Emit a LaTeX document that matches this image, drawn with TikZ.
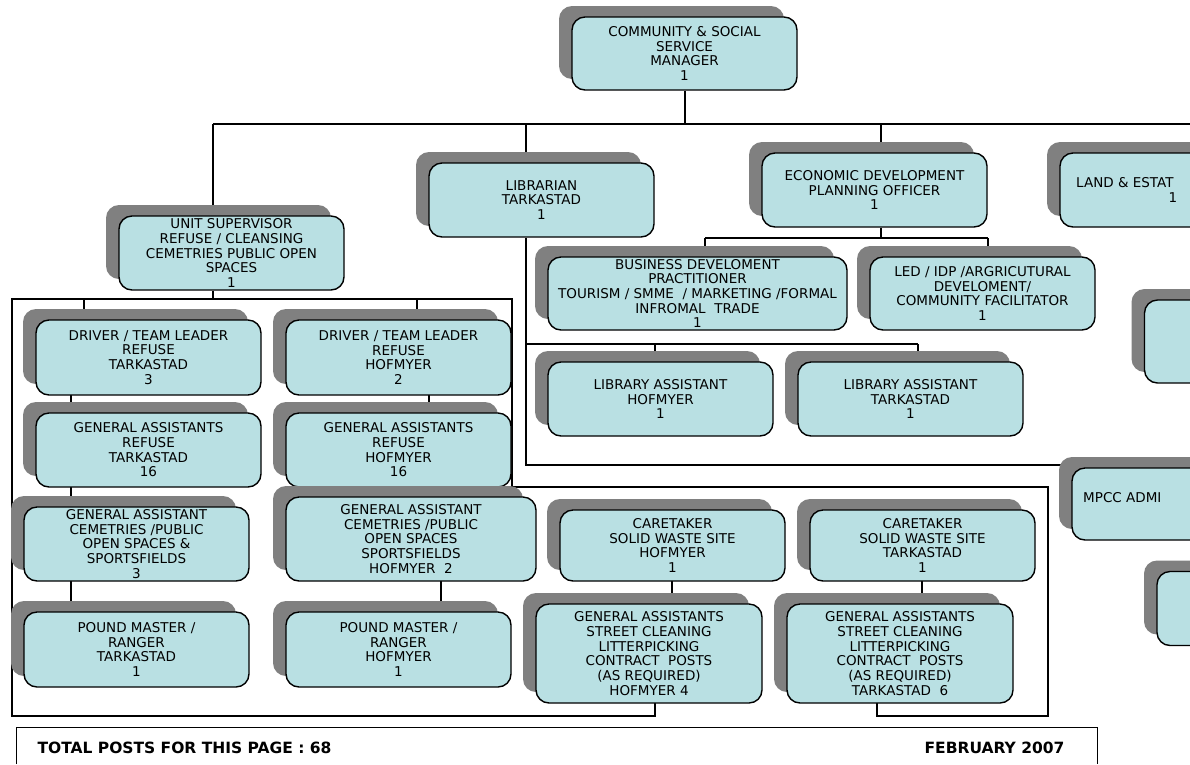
\documentclass[tikz,border=0pt]{standalone}
\usepackage{fontspec}
\setmainfont{DejaVu Sans}
\usetikzlibrary{shadows, backgrounds, positioning}

\definecolor{boxcyan}{RGB}{185,224,227}
\definecolor{shadowgray}{RGB}{128,128,128}

\begin{document}
\begin{tikzpicture}[x=1pt, y=-1pt,
  post/.style={draw, line width=1.4pt, rounded corners=13pt, fill=boxcyan,
    minimum width=225pt, minimum height=74pt, align=center, inner sep=2pt,
    font=\fontsize{13.5}{14.7}\selectfont,
    drop shadow={shadow xshift=-13pt, shadow yshift=11pt, fill=shadowgray, opacity=1}},
  link/.style={line width=1.7pt},
  cut/.style={font=\fontsize{13.5}{14.7}\selectfont, inner sep=0pt}]
  \useasboundingbox (0,0) rectangle (1190,764);
  \clip (0,0) rectangle (1190,764);

  % top level
  \node[post, minimum height=73pt] (mgr) at (684.5,53.5) {COMMUNITY \& SOCIAL\\SERVICE\\MANAGER\\1};
  \node[post] (unitsup) at (231.5,253) {UNIT SUPERVISOR\\REFUSE / CLEANSING\\CEMETRIES PUBLIC OPEN\\SPACES\\1};
  \node[post] (lib) at (541.5,200) {LIBRARIAN\\TARKASTAD\\1};
  \node[post] (econ) at (874.5,190) {ECONOMIC DEVELOPMENT\\PLANNING OFFICER\\1};
  \node[post] (land) at (1172.5,190) {};
  \node[cut, anchor=west] (landtxt) at (1076,183) {LAND \& ESTAT};
  \node[cut] (landnum) at (1173,198) {1};

  % economic development
  \node[post, minimum width=299pt, minimum height=73pt] (bizdev) at (697.5,293.5)
    {BUSINESS DEVELOMENT\\PRACTITIONER\\\makebox[280pt][c]{TOURISM / SMME~~/ MARKETING /FORMAL}\\INFROMAL~~TRADE\\1};
  \node[post, minimum height=73pt] (led) at (982.5,293.5) {LED / IDP /ARGRICUTURAL\\DEVELOMENT/\\COMMUNITY FACILITATOR\\1};
  \node[post, minimum height=83pt] (rA) at (1257,341.5) {};

  % library
  \node[post] (libH) at (660.5,399) {LIBRARY ASSISTANT\\HOFMYER\\1};
  \node[post] (libT) at (910.5,399) {LIBRARY ASSISTANT\\TARKASTAD\\1};
  \node[post, minimum height=72pt] (mpcc) at (1184.5,504) {};
  \node[cut, anchor=west] (mpcctxt) at (1083,498) {MPCC ADMI};
  \node[post] (rB) at (1269.5,608.5) {};

  % refuse / cleansing
  \node[post, minimum height=75pt] (drvT) at (148.5,357.5) {DRIVER / TEAM LEADER\\REFUSE\\TARKASTAD\\3};
  \node[post, minimum height=75pt] (drvH) at (398.5,357.5) {DRIVER / TEAM LEADER\\REFUSE\\HOFMYER\\2};
  \node[post] (gaRT) at (148.5,450) {GENERAL ASSISTANTS\\REFUSE\\TARKASTAD\\16};
  \node[post] (gaRH) at (398.5,450) {GENERAL ASSISTANTS\\REFUSE\\HOFMYER\\16};
  \node[post] (gaCT) at (136.5,544) {GENERAL ASSISTANT\\CEMETRIES /PUBLIC\\OPEN SPACES \&\\SPORTSFIELDS\\3};
  \node[post, minimum width=250pt, minimum height=84pt] (gaCH) at (411,539) {GENERAL ASSISTANT\\CEMETRIES /PUBLIC\\OPEN SPACES\\SPORTSFIELDS\\HOFMYER~~2};
  \node[post, minimum height=75pt] (pmT) at (136.5,649.5) {POUND MASTER /\\RANGER\\TARKASTAD\\1};
  \node[post, minimum height=75pt] (pmH) at (398.5,649.5) {POUND MASTER /\\RANGER\\HOFMYER\\1};

  % solid waste
  \node[post, minimum height=71pt] (careH) at (672.5,545.5) {CARETAKER\\SOLID WASTE SITE\\HOFMYER\\1};
  \node[post, minimum height=71pt] (careT) at (922.5,545.5) {CARETAKER\\SOLID WASTE SITE\\TARKASTAD\\1};
  \node[post, minimum width=226pt, minimum height=99pt] (gaSH) at (649,653.5)
    {GENERAL ASSISTANTS\\STREET CLEANING\\LITTERPICKING\\CONTRACT~~POSTS\\(AS REQUIRED)\\HOFMYER 4};
  \node[post, minimum width=226pt, minimum height=99pt] (gaST) at (900,653.5)
    {GENERAL ASSISTANTS\\STREET CLEANING\\LITTERPICKING\\CONTRACT~~POSTS\\(AS REQUIRED)\\TARKASTAD~~6};

  % footer
  \draw[line width=1pt] (16,764) -- (16,727) -- (1097,727) -- (1097,764);
  \node[anchor=west, font=\fontsize{15.5}{17}\selectfont\bfseries] (total) at (34,748) {TOTAL POSTS FOR THIS PAGE : 68};
  \node[anchor=east, font=\fontsize{15.5}{17}\selectfont\bfseries] (date) at (1068,748) {FEBRUARY 2007};

  \begin{scope}[on background layer]
  \begin{scope}[link]
    \coordinate (busL) at (213,124);
    \coordinate (busR) at (1195,124);
    \coordinate (mgrB) at (685,124);
    \coordinate (libTop) at (526,124);
    \coordinate (econTop) at (881,124);
    \draw (mgrB |- mgr.south) -- (mgrB);
    \draw (busL) -- (busR);
    \draw (busL) -- (busL |- unitsup.north);
    \draw (libTop) -- (libTop |- lib.north);
    \draw (econTop) -- (econTop |- econ.north);
    % economic development branch
    \coordinate (ecL) at (705,238);
    \coordinate (ecR) at (988,238);
    \draw (econTop |- econ.south) -- (econTop |- ecL);
    \draw (ecL) -- (ecR);
    \draw (ecL) -- (ecL |- bizdev.north);
    \draw (ecR) -- (ecR |- led.north);
    % library branch
    \coordinate (lbL) at (526,344);
    \coordinate (lbR) at (918,344);
    \coordinate (lbB) at (526,465);
    \coordinate (lbM) at (655,344);
    \draw (lbL |- lib.south) -- (lbB) -- (lbB -| mpcc.west);
    \draw (lbL) -- (lbR);
    \draw (lbM) -- (lbM |- libH.north);
    \draw (lbR) -- (lbR |- libT.north);
    % refuse / cleansing frame
    \coordinate (usL) at (12,299);
    \coordinate (usR) at (512,299);
    \draw (busL |- unitsup.south) -- (busL |- usL);
    \draw (655,703) -- (655,716) -- (12,716) -- (usL) -- (usR) -- (512,487) -- (1048,487) -- (1048,716) -- (877,716) -- (877,703);
    \draw (84,299) -- (84,320);
    \draw (417,299) -- (417,320);
    \draw (71,395) -- (71,612);
    \draw (429,395) -- (429,413);
    \draw (441,487) -- (441,612);
    % caretakers
    \draw (672,581) -- (672,604);
    \draw (922,581) -- (922,604);
  \end{scope}
  \end{scope}
\end{tikzpicture}
\end{document}
